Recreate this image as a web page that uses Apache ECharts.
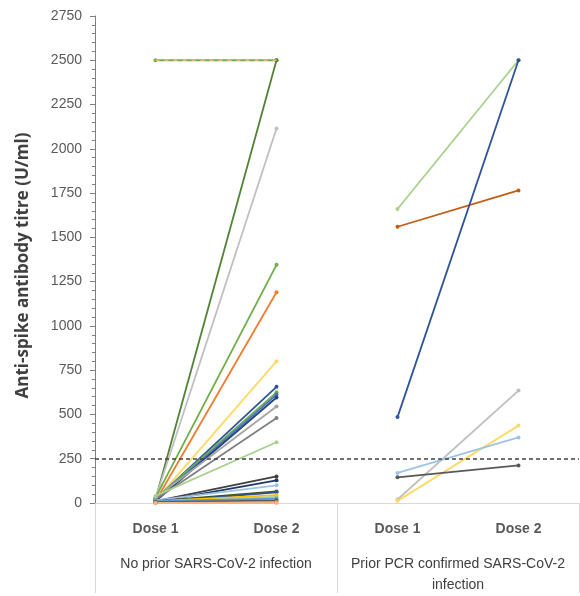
<!DOCTYPE html>
<html><head><meta charset="utf-8">
<script src="https://cdn.jsdelivr.net/npm/echarts@6/dist/echarts.min.js"></script>
<style>html,body{margin:0;padding:0;background:#fff}#c{width:580px;height:596px}</style>
</head><body><div id="c"></div>
<script>
// Categories
const doseLabels = ['Dose 1', 'Dose 2', 'Dose 1', 'Dose 2'];
const groupLabels = ['No prior SARS-CoV-2 infection', 'Prior PCR confirmed SARS-CoV-2\ninfection'];
const yTicks = [0, 250, 500, 750, 1000, 1250, 1500, 1750, 2000, 2250, 2500, 2750];
const threshold = 250;

// No prior infection: per-participant Dose 1 and Dose 2 titres
const noPriorDose1 = [2500, 2500, 20, 25, 30, 10, 15, 20, 25, 15, 10, 30, 20, 40, 10, 5, 15, 10, 5, 10, 5, 10, 5, 0, 0];
const noPriorDose2 = [2500, 2500, 2500, 2115, 1345, 1190, 800, 656, 625, 612, 596, 545, 480, 343, 150, 128, 100, 65, 60, 45, 35, 25, 15, 5, 0];
const noPriorColors = ['#70ad47', '#f4b183', '#548235', '#c0c0c0', '#70ad47', '#ed7d31', '#ffd966', '#2f5597', '#70ad47', '#4472c4', '#264478', '#a5a5a5', '#7f7f7f', '#a9d18e', '#404040', '#203864', '#9dc3e6', '#385723', '#2f5597', '#ffc000', '#a9d18e', '#5b9bd5', '#595959', '#ed7d31', '#f4b183'];
const noPriorDashed = [false, true];

// Prior PCR-confirmed infection
const priorDose1 = [1660, 1560, 485, 20, 12, 170, 145];
const priorDose2 = [2500, 1765, 2500, 635, 437, 370, 212];
const priorColors = ['#a9d18e', '#c55a11', '#2f5597', '#c0c0c0', '#ffd966', '#9dc3e6', '#595959'];

const series = [];
noPriorDose1.forEach((v, i) => {
  const dashed = !!noPriorDashed[i];
  series.push({
    type: 'line', xAxisIndex: 0, yAxisIndex: 0,
    data: [v, noPriorDose2[i], '-', '-'],
    symbol: 'circle', symbolSize: dashed ? 0 : 4,
    showSymbol: !dashed,
    lineStyle: { color: noPriorColors[i], width: dashed ? 1.6 : 1.8, type: dashed ? [4, 5] : 'solid' },
    itemStyle: { color: noPriorColors[i] },
    z: dashed ? 5 : 2,
    animation: false, silent: true
  });
});
priorDose1.forEach((v, i) => {
  series.push({
    type: 'line', xAxisIndex: 0, yAxisIndex: 0,
    data: ['-', '-', v, priorDose2[i]],
    symbol: 'circle', symbolSize: 4,
    lineStyle: { color: priorColors[i], width: 1.8 },
    itemStyle: { color: priorColors[i] },
    animation: false, silent: true
  });
});
// threshold line
series.push({
  type: 'line', data: [], xAxisIndex: 0, yAxisIndex: 0,
  markLine: {
    silent: true, symbol: ['none', 'none'], label: { show: false },
    lineStyle: { color: '#404040', type: [4, 3], width: 1.5 },
    data: [{ yAxis: threshold }]
  },
  animation: false
});

const chart = echarts.init(document.getElementById('c'), null, { renderer: 'canvas' });
chart.setOption({
  animation: false,
  backgroundColor: '#ffffff',
  textStyle: { fontFamily: 'Liberation Sans, Arial, sans-serif' },
  grid: { left: 95, right: 1, top: 16, bottom: 90 },
  xAxis: [
    {
      type: 'category', data: doseLabels, boundaryGap: true,
      axisLine: { show: true, lineStyle: { color: '#d9d9d9', width: 1 } },
      axisTick: { show: false },
      axisLabel: { margin: 19, fontSize: 14, fontWeight: 'bold', color: '#595959' }
    },
    {
      type: 'category', data: groupLabels, boundaryGap: true, position: 'bottom', gridIndex: 0,
      axisLine: { show: false },
      axisTick: { show: true, length: 90, lineStyle: { color: '#d9d9d9', width: 1 } },
      axisLabel: { margin: 51, fontSize: 14, color: '#404040', lineHeight: 21, interval: 0 }
    }
  ],
  yAxis: {
    type: 'value', min: 0, max: 2750, interval: 250,
    name: 'Anti-spike antibody titre (U/ml)',
    nameLocation: 'middle', nameGap: 63, nameRotate: 90,
    nameTextStyle: { fontSize: 17, fontWeight: 'bold', color: '#404040', fontFamily: 'Open Sans, sans-serif', padding: [0, 12, 0, 0] },
    axisLine: { show: true, lineStyle: { color: '#7f7f7f', width: 1 } },
    axisTick: { show: true, length: 5, lineStyle: { color: '#7f7f7f' } },
    minorTick: { show: true, splitNumber: 5, length: 3, lineStyle: { color: '#7f7f7f' } },
    splitLine: { show: false },
    axisLabel: { fontSize: 14, color: '#595959', margin: 13, formatter: v => String(v) }
  },
  series: series
});
</script></body></html>
